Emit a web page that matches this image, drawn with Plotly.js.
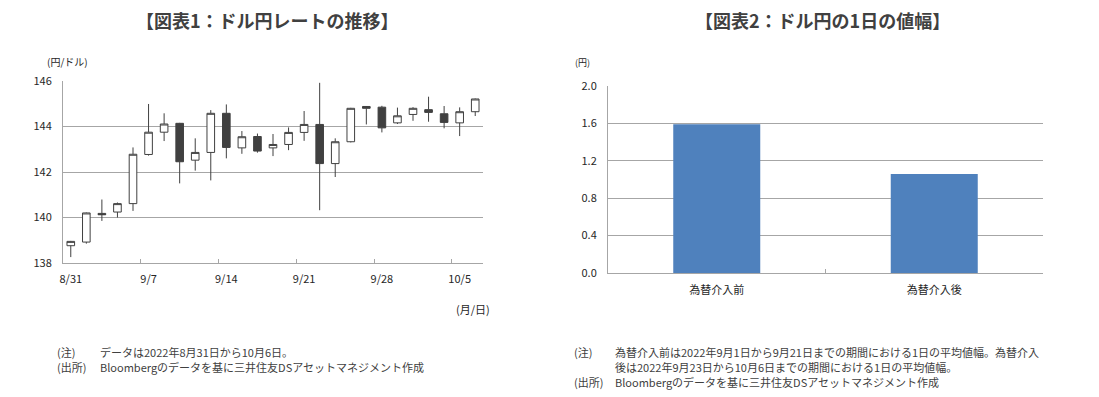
<!DOCTYPE html>
<html>
<head>
<meta charset="utf-8">
<script src="https://cdn.plot.ly/plotly-3.0.1.min.js"></script>
<style>
html,body{margin:0;padding:0;background:#fff;}
#chart{width:1099px;height:397px;}
</style>
</head>
<body>
<div id="chart"></div>
<script>
// ---- Chart 1 data: USD/JPY daily OHLC ----
const dates = ["8/31","9/1","9/2","9/5","9/6","9/7","9/8","9/9","9/12","9/13","9/14","9/15","9/16","9/19","9/20","9/21","9/22","9/23","9/26","9/27","9/28","9/29","9/30","10/3","10/4","10/5","10/6"];
const openVals  = [138.76,138.92,140.18,140.24,140.61,142.77,143.75,144.14,142.52,142.86,144.58,143.06,143.56,143.06,143.21,143.74,144.09,142.37,143.33,144.88,144.85,144.16,144.53,144.74,144.56,144.16,144.65];
const highVals  = [138.97,140.22,140.79,140.66,143.08,144.99,144.58,144.16,143.48,144.72,144.97,143.80,143.69,143.67,143.96,144.68,145.92,143.48,144.82,144.90,144.91,144.83,144.85,145.31,144.90,144.84,145.23];
const lowVals   = [138.26,138.85,139.85,140.00,140.29,142.72,143.36,141.50,142.06,141.63,142.60,142.80,142.85,142.70,142.96,143.37,140.32,141.78,143.30,144.09,143.74,144.11,144.25,144.21,143.92,143.58,144.46];
const closeVals = [138.95,140.20,140.12,140.61,142.78,143.75,144.11,142.45,142.86,144.58,143.08,143.55,142.92,143.21,143.74,144.09,142.37,143.33,144.80,144.80,143.94,144.47,144.80,144.62,144.18,144.65,145.21];
const xTickLabels = ["8/31","9/7","9/14","9/21","9/28","10/5"];
const yTicks1 = [138,140,142,144,146];

// ---- Chart 2 data: average daily range ----
const rangeCats = ["為替介入前","為替介入後"];
const rangeVals = [1.59, 1.06];
const yTicks2 = [0.0,0.4,0.8,1.2,1.6,2.0];

const W = 1099, H = 397;
const px = v => v / W;
const py = v => 1 - v / H;
const grid = "#a6a6a6";
const dark = "#404040";
const FONT = "Noto Sans CJK JP, Noto Sans, sans-serif";

// boundary tick positions between categories (every 5th)
const bTicks1 = [];
for (let i = 0; i < dates.length; i++) { if (xTickLabels.includes(dates[i]) && i > 0) bTicks1.push(i - 0.5); }

const traces = [
  {
    type: "candlestick",
    x: dates, open: openVals, high: highVals, low: lowVals, close: closeVals,
    xaxis: "x", yaxis: "y",
    increasing: {line: {color: dark, width: 1}, fillcolor: "#ffffff"},
    decreasing: {line: {color: dark, width: 1}, fillcolor: dark},
    whiskerwidth: 0,
    hoverinfo: "skip",
    showlegend: false
  },
  {type: "scatter", x: [], y: [], xaxis: "x2", yaxis: "y", showlegend: false, hoverinfo: "skip"},
  {
    type: "bar", x: rangeCats, y: rangeVals, xaxis: "x3", yaxis: "y3",
    marker: {color: "#4f81bd", line: {width: 0}},
    showlegend: false, hoverinfo: "skip"
  },
  {type: "scatter", x: [], y: [], xaxis: "x4", yaxis: "y3", showlegend: false, hoverinfo: "skip"}
];

const tickFont = {family: FONT, size: 11, color: "#262626"};
const noteFont = {family: FONT, size: 11, color: "#404040"};
const titleFont = {family: FONT, size: 18, color: "#404040"};

function note(text, x, y) {
  return {text: text, x: px(x), y: py(y), xref: "paper", yref: "paper", showarrow: false,
          font: noteFont, xanchor: "left", yanchor: "middle"};
}

const layout = {
  width: W, height: H,
  margin: {l: 0, r: 0, t: 0, b: 0},
  paper_bgcolor: "#fff", plot_bgcolor: "rgba(0,0,0,0)",
  font: {family: FONT, size: 11, color: "#262626"},
  bargap: 0.6,
  xaxis: {
    domain: [px(63), px(483)], anchor: "y", type: "category",
    range: [-0.5, dates.length - 0.5],
    tickmode: "array", tickvals: xTickLabels, ticktext: xTickLabels,
    ticks: "", showgrid: false, showline: true, linecolor: grid, linewidth: 1,
    tickfont: tickFont, ticklabelstandoff: 6,
    rangeslider: {visible: false}, fixedrange: true
  },
  xaxis2: {
    domain: [px(63), px(483)], anchor: "y", overlaying: "x",
    range: [-0.5, dates.length - 0.5],
    tickmode: "array", tickvals: bTicks1, ticks: "inside", ticklen: 4, tickcolor: grid, tickwidth: 1,
    showticklabels: false, showgrid: false, showline: false, zeroline: false
  },
  yaxis: {
    domain: [1 - 263 / H, 1 - 81 / H], anchor: "x",
    range: [138, 146], tickmode: "array", tickvals: yTicks1,
    ticks: "", showgrid: true, gridcolor: grid, gridwidth: 1,
    showline: true, linecolor: grid, linewidth: 1, zeroline: false,
    tickfont: tickFont, ticklabelstandoff: 8, fixedrange: true
  },
  xaxis3: {
    domain: [px(608), px(1043)], anchor: "y3", type: "category",
    range: [-0.5, 1.5],
    ticks: "", showgrid: false, showline: true, linecolor: grid, linewidth: 1,
    tickfont: tickFont, ticklabelstandoff: 7
  },
  xaxis4: {
    domain: [px(608), px(1043)], anchor: "y3", overlaying: "x3",
    range: [-0.5, 1.5],
    tickmode: "array", tickvals: [0.5, 1.5], ticks: "inside", ticklen: 4, tickcolor: grid, tickwidth: 1,
    showticklabels: false, showgrid: false, showline: false, zeroline: false
  },
  yaxis3: {
    domain: [1 - 273 / H, 1 - 86 / H], anchor: "x3",
    range: [0, 2.0], tickmode: "array", tickvals: yTicks2,
    ticktext: yTicks2.map(v => v.toFixed(1)),
    ticks: "", showgrid: true, gridcolor: grid, gridwidth: 1,
    showline: true, linecolor: grid, linewidth: 1, zeroline: false,
    tickfont: tickFont, ticklabelstandoff: 8
  },
  annotations: [
    {text: "<b>【図表1：ドル円レートの推移】</b>", x: px(267), y: py(20), xref: "paper", yref: "paper",
     showarrow: false, font: titleFont, xanchor: "center", yanchor: "middle"},
    {text: "<b>【図表2：ドル円の1日の値幅】</b>", x: px(822), y: py(20), xref: "paper", yref: "paper",
     showarrow: false, font: titleFont, xanchor: "center", yanchor: "middle"},
    {text: "(円/ドル)", x: px(45), y: py(61), xref: "paper", yref: "paper", showarrow: false,
     font: {family: FONT, size: 10, color: "#262626"}, xanchor: "left", yanchor: "middle"},
    {text: "(月/日)", x: px(492), y: py(309), xref: "paper", yref: "paper", showarrow: false,
     font: {family: FONT, size: 11, color: "#262626"}, xanchor: "right", yanchor: "middle"},
    {text: "(円)", x: px(573), y: py(63), xref: "paper", yref: "paper", showarrow: false,
     font: {family: FONT, size: 9, color: "#262626"}, xanchor: "left", yanchor: "middle"},
    note("(注)", 55, 352),
    note("データは2022年8月31日から10月6日。", 98, 352),
    note("(出所)", 55, 367),
    note("Bloombergのデータを基に三井住友DSアセットマネジメント作成", 98, 367),
    note("(注)", 572, 352),
    note("為替介入前は2022年9月1日から9月21日までの期間における1日の平均値幅。為替介入", 613, 352),
    note("後は2022年9月23日から10月6日までの期間における1日の平均値幅。", 613, 367),
    note("(出所)", 572, 382),
    note("Bloombergのデータを基に三井住友DSアセットマネジメント作成", 613, 382)
  ]
};

Plotly.newPlot("chart", traces, layout, {staticPlot: true, displayModeBar: false});
</script>
</body>
</html>
